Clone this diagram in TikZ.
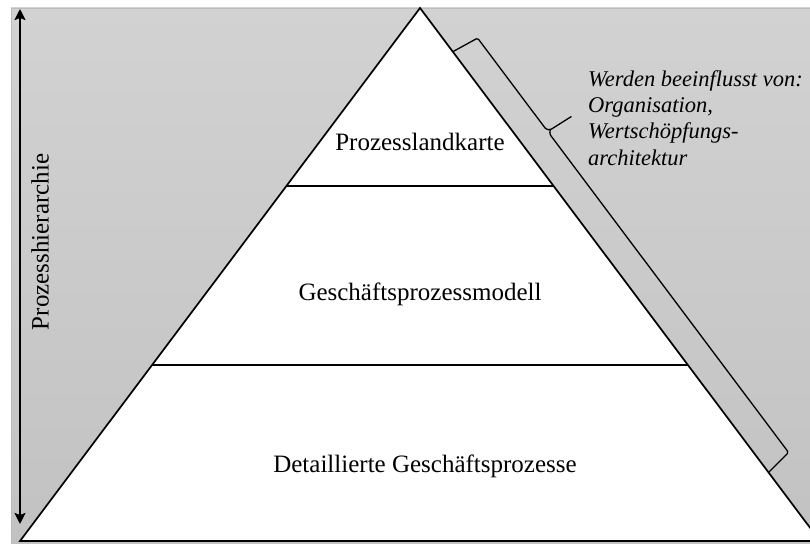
\documentclass[tikz,border=0pt]{standalone}
\usepackage{fontspec}
\setmainfont{Liberation Serif}[ItalicFont={Liberation Serif Italic}]
\usetikzlibrary{arrows.meta,calc}
\definecolor{bgtop}{RGB}{210,210,210}
\definecolor{bgbot}{RGB}{194,194,194}
\definecolor{bgedge}{RGB}{188,188,188}
\begin{document}
\begin{tikzpicture}[x=1pt,y=-1pt,
  layerlabel/.style={font=\fontsize{25}{30}\selectfont, inner sep=0pt, anchor=base},
  notelabel/.style={font=\itshape\fontsize{22.5}{26.4}\selectfont, inner sep=0pt, align=left, anchor=north west},
  edge/.style={line width=1.7pt, line join=miter},
  divider/.style={line width=1.3pt},
  bracepath/.style={line width=1.3pt, line join=round, rounded corners=1.5pt},
  levelarrow/.style={line width=2.4pt, {Stealth[length=11pt,width=11pt,inset=2pt]}-{Stealth[length=11pt,width=11pt,inset=2pt]}}]
\useasboundingbox (0,0) rectangle (810,543);
\clip (0,0) rectangle (810,543);

% grey backdrop
\fill[top color=bgtop, bottom color=bgbot] (11,8) rectangle (812,545);
\draw[bgedge, line width=0.8pt] (11,545) -- (11,8) -- (812,8);

% pyramid corners
\coordinate (apex) at (420,8);
\coordinate (baseL) at (20,541);
\coordinate (baseR) at (820,541);

% pyramid body and its two dividing lines
\fill[white] (apex) -- (baseL) -- (baseR) -- cycle;
\coordinate (d1L) at ($(apex)!0.334!(baseL)$);
\coordinate (d1R) at ($(apex)!0.334!(baseR)$);
\coordinate (d2L) at ($(apex)!0.670!(baseL)$);
\coordinate (d2R) at ($(apex)!0.670!(baseR)$);
\draw[divider] (d1L) -- (d1R);
\draw[divider] (d2L) -- (d2R);
\draw[edge] (apex) -- (baseL) -- (baseR) -- cycle;

% level labels
\node[layerlabel] (lvl1) at (420,150) {Prozesslandkarte};
\node[layerlabel] (lvl2) at (420,300) {Geschäftsprozessmodell};
\node[layerlabel] (lvl3) at (425,472) {Detaillierte Geschäftsprozesse};

% hierarchy arrow on the left
\coordinate (arrTop) at (20,9);
\coordinate (arrBot) at (20,524);
\draw[levelarrow] (arrBot) -- (arrTop);
\node[font=\fontsize{25}{30}\selectfont, rotate=90, inner sep=0pt] (hier) at (40,242) {Prozesshierarchie};

% brace along the right flank
\coordinate (brS) at ($(apex)!0.082!(baseR)$);
\begin{scope}[shift={(brS)}, x={(0.6002pt,-0.7998pt)}, y={(0.7998pt,0.6002pt)}]
  \draw[bracepath] (0,0) -- (4,28) -- (118,28) -- (121,31) -- (123,56);
  \draw[bracepath] (121,31) -- (124,28) -- (522,28) -- (526,0);
\end{scope}

% influence note
\node[notelabel] (note) at (588,70) {Werden beeinflusst von:\\Organisation,\\Wertschöpfungs-\\architektur};
\end{tikzpicture}
\end{document}
